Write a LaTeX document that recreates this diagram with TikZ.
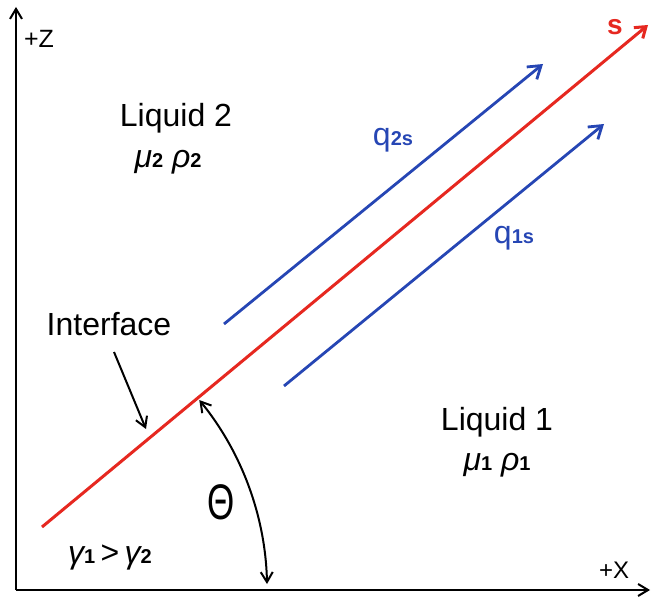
\documentclass[tikz,border=0pt]{standalone}
\usepackage{fontspec}
\setmainfont{Liberation Sans}
\usetikzlibrary{arrows.meta}
\definecolor{ifred}{RGB}{230,40,32}
\definecolor{flowblue}{RGB}{38,70,180}
\newcommand{\lowsub}[1]{{\fontsize{10}{10}\selectfont\bfseries #1}}
\newcommand{\muL}[1]{{\itshape μ}\lowsub{#1}}
\newcommand{\rhoL}[1]{{\itshape ρ}\lowsub{#1}}
\newcommand{\gamL}[1]{{\itshape γ}\lowsub{#1}}

\begin{document}
\begin{tikzpicture}[x=0.5pt,y=0.5pt,
  txt/.style={font=\fontsize{16}{19}\selectfont, inner sep=0pt, align=center},
  axis/.style={line width=1pt, -{Straight Barb[length=5pt,width=6pt]}},
  flow/.style={flowblue, line width=1.4pt, -{Straight Barb[length=6pt,width=8pt]}}]
\useasboundingbox (0,0) rectangle (651,599);
%
% axes
\coordinate (O) at (16,9);
\coordinate (Zend) at (16,592);
\coordinate (Xend) at (650,9);
\draw[axis] (O) -- (Zend);
\draw[axis] (O) -- (Xend);
\node (zlab) [txt, font=\fontsize{12.5}{14}\selectfont] at (39,560) {+Z};
\node (xlab) [txt, font=\fontsize{12}{14}\selectfont] at (614,29) {+X};
%
% interface and flows
\coordinate (ifA) at (42,72);
\coordinate (ifB) at (648,574);
\draw[ifred, line width=1.5pt, -{Straight Barb[length=5pt,width=7pt]}] (ifA) -- (ifB);
\node (s) [txt, ifred, font=\fontsize{14}{16}\selectfont\bfseries] at (615,572) {s};
\coordinate (q2A) at (224,275);
\coordinate (q2B) at (543,535);
\coordinate (q1A) at (284,213);
\coordinate (q1B) at (604,475);
\draw[flow] (q2A) -- (q2B);
\draw[flow] (q1A) -- (q1B);
\node (q2) [txt, flowblue] at (393,459) {q\lowsub{2s}};
\node (q1) [txt, flowblue] at (514,361) {q\lowsub{1s}};
%
% liquids
\node (liq2) [txt] at (176,481) {Liquid 2};
\node (prop2) [txt] at (168,437) {\muL{2} \rhoL{2}};
\node (liq1) [txt] at (497,177) {Liquid 1};
\node (prop1) [txt] at (497,134) {\muL{1} \rhoL{1}};
%
% labels
\node (iface) [txt] at (109,275) {Interface};
\coordinate (ifTail) at (114,247);
\coordinate (ifTip) at (146,170);
\draw[line width=1pt, -{Straight Barb[length=5pt,width=6pt]}] (ifTail) -- (ifTip);
\node (theta) [txt, font=\fontsize{25}{28}\selectfont, xscale=0.7] at (221,97) {Θ};
\coordinate (thA) at (267,15);
\draw[line width=1pt, {Straight Barb[length=5pt,width=6pt]}-{Straight Barb[length=5pt,width=6pt]}] (thA) arc[start angle=1.2, end angle=39.2, radius=301];
\node (gam) [txt] at (110,42) {\gamL{1}\,>\,\gamL{2}};
\end{tikzpicture}
\end{document}
